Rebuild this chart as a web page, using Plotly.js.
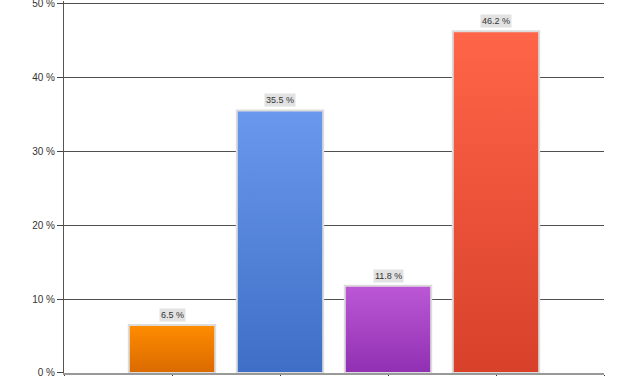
<!DOCTYPE html>
<html>
<head>
<meta charset="utf-8">
<script src="https://cdn.plot.ly/plotly-3.0.1.min.js"></script>
<style>html,body{margin:0;padding:0;background:#fff;}#chart{width:627px;height:376px;}</style>
</head>
<body>
<div id="chart"></div>
<script>
const categories = [1, 2, 3, 4];
const values = [6.5, 35.5, 11.8, 46.2];
const labels = ['6.5 %', '35.5 %', '11.8 %', '46.2 %'];
const yTickVals = [0, 10, 20, 30, 40, 50];
const yTickText = ['0 %', '10 %', '20 %', '30 %', '40 %', '50 %'];
const gradTop = ['#FF8C00', '#6A98EE', '#BC58D6', '#FF6548'];
const gradBottom = ['#DA6A00', '#3F6EC6', '#9030B2', '#D8402A'];

const trace = {
  type: 'bar',
  x: categories,
  y: values,
  width: 0.8,
  marker: { color: gradTop, line: { color: '#dcdcdc', width: 2 } },
  hoverinfo: 'none'
};

const annotations = categories.map((c, i) => ({
  x: c, y: values[i], xref: 'x', yref: 'y',
  text: labels[i], showarrow: false,
  yanchor: 'bottom', yshift: 3,
  bgcolor: '#e2e2e2', borderpad: 1,
  font: { family: 'Liberation Sans, Arial, sans-serif', size: 9, color: '#333' }
}));

const layout = {
  width: 627, height: 376,
  margin: { l: 64, r: 23, t: 1, b: 3, pad: 0 },
  paper_bgcolor: '#fff', plot_bgcolor: '#fff',
  showlegend: false,
  bargap: 0.2,
  xaxis: {
    range: [0, 5], tickvals: [0, 1, 2, 3, 4, 5], showticklabels: false,
    ticks: 'outside', ticklen: 4, tickcolor: '#333',
    showgrid: false, zeroline: false,
    showline: true, linecolor: '#999', linewidth: 2, fixedrange: true
  },
  yaxis: {
    range: [-0.001, 50.3], tickvals: yTickVals, ticktext: yTickText,
    ticks: 'outside', ticklen: 6, tickcolor: '#444',
    ticklabeloverflow: 'allow',
    showgrid: true, gridcolor: '#505050', gridwidth: 1,
    zeroline: false, showline: true, linecolor: '#555', linewidth: 1,
    tickfont: { family: 'Liberation Sans, Arial, sans-serif', size: 10, color: '#333' },
    fixedrange: true
  },
  annotations: annotations
};

function applyGradients(gd) {
  const svg = gd.querySelector('svg.main-svg');
  if (!svg) return;
  let defs = svg.querySelector('defs');
  if (!defs) { defs = document.createElementNS('http://www.w3.org/2000/svg', 'defs'); svg.insertBefore(defs, svg.firstChild); }
  gradTop.forEach((top, i) => {
    const id = 'bargrad' + i;
    if (svg.querySelector('#' + id)) return;
    const g = document.createElementNS('http://www.w3.org/2000/svg', 'linearGradient');
    g.setAttribute('id', id);
    g.setAttribute('x1', '0'); g.setAttribute('y1', '0');
    g.setAttribute('x2', '0'); g.setAttribute('y2', '1');
    const s1 = document.createElementNS('http://www.w3.org/2000/svg', 'stop');
    s1.setAttribute('offset', '0'); s1.setAttribute('stop-color', top);
    const s2 = document.createElementNS('http://www.w3.org/2000/svg', 'stop');
    s2.setAttribute('offset', '1'); s2.setAttribute('stop-color', gradBottom[i]);
    g.appendChild(s1); g.appendChild(s2);
    defs.appendChild(g);
  });
  gd.querySelectorAll('.bars .point path').forEach((p, i) => {
    p.style.fill = 'url(#bargrad' + i + ')';
  });
}

Plotly.newPlot('chart', [trace], layout, { staticPlot: true, displayModeBar: false }).then(gd => {
  applyGradients(gd);
  gd.on('plotly_afterplot', () => applyGradients(gd));
});
</script>
</body>
</html>
